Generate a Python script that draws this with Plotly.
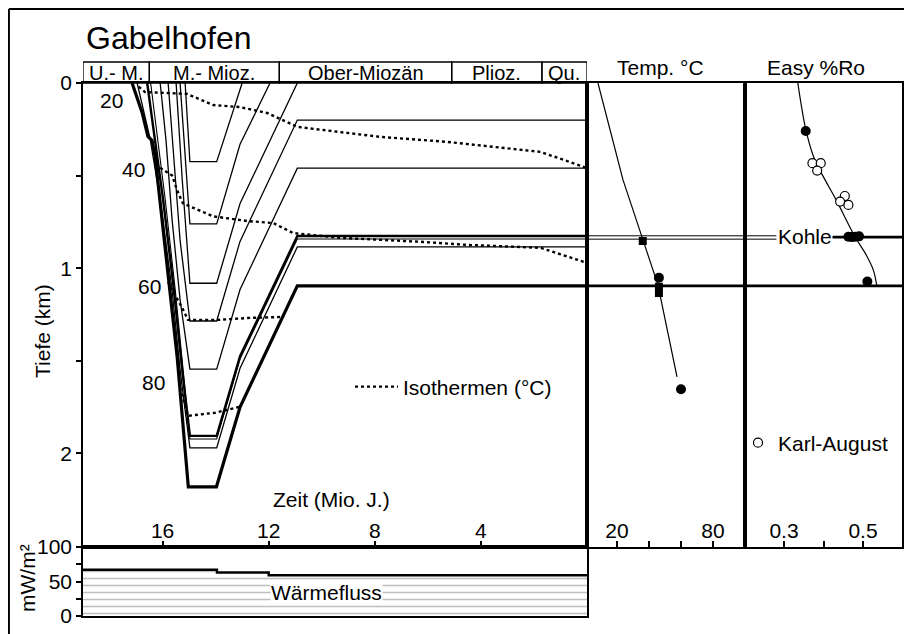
import plotly.graph_objects as go

W, H = 912, 634
OFF = 8  # page offset of the figure inside the browser window
def px(x): return (x - OFF) / W
def py(y): return 1 - (y - OFF) / H

FONT = "Liberation Sans, Arial, sans-serif"
FS = 21

# ---------------- data ----------------
epoch_names = ["U.- M.", "M.- Mioz.", "Ober-Miozän", "Plioz.", "Qu."]
epoch_bounds = [19.0, 16.5, 11.6, 5.1, 1.7, 0.0]
time_ticks = [16, 12, 8, 4]

# burial curves of horizons (time in Ma, depth in km)
h_base_t = [17.15, 16.77, 16.55, 16.40, 16.28, 15.72, 15.45, 15.03, 13.97, 13.08, 10.92, 0.0]
h_base_d = [0.0, 0.16, 0.29, 0.31, 0.40, 1.12, 1.48, 2.18, 2.18, 1.75, 1.095, 1.095]
h_a_t = [16.96, 16.47, 16.09, 15.64, 15.34, 14.97, 13.96, 13.08, 10.92, 0.0]
h_a_d = [0.0, 0.30, 0.63, 1.12, 1.55, 1.97, 1.97, 1.54, 0.885, 0.885]
h_kohle_t = [16.58, 16.28, 15.98, 15.57, 15.26, 14.97, 13.96, 13.08, 10.92, 0.0]
h_kohle_d = [0.0, 0.31, 0.63, 1.12, 1.55, 1.905, 1.905, 1.475, 0.826, 0.826]
h_kohle2_t = [16.45, 16.18, 15.90, 15.52, 15.22, 14.97, 13.96, 13.08, 10.92, 0.0]
h_kohle2_d = [0.0, 0.31, 0.63, 1.12, 1.55, 1.922, 1.922, 1.49, 0.842, 0.842]
h_b_t = [16.09, 15.87, 15.64, 15.34, 14.97, 13.96, 13.08, 10.92, 0.0]
h_b_d = [0.0, 0.31, 0.74, 1.17, 1.545, 1.545, 1.115, 0.46, 0.46]
h_c_t = [15.79, 15.57, 15.34, 14.97, 13.96, 13.08, 10.92, 0.0]
h_c_d = [0.0, 0.415, 0.85, 1.285, 1.285, 0.855, 0.2, 0.2]
e1_t = [15.49, 15.26, 14.97, 13.96, 13.08, 10.92]
e1_d = [0.0, 0.52, 1.081, 1.081, 0.651, 0.0]
e2_t = [15.34, 15.15, 14.97, 13.96, 13.08, 11.95]
e2_d = [0.0, 0.415, 0.761, 0.761, 0.331, 0.0]
e3_t = [15.15, 14.97, 13.96, 13.0]
e3_d = [0.0, 0.425, 0.425, 0.0]

# isotherms
iso20_t = [16.9, 16.66, 15.83, 15.08, 14.09, 13.08, 12.06, 11.57, 10.92, 7.79, 5.26, 1.75, 0.0]
iso20_d = [0.02, 0.049, 0.054, 0.059, 0.119, 0.130, 0.162, 0.194, 0.237, 0.291, 0.318, 0.372, 0.459]
iso40_t = [16.28, 15.64, 15.45, 15.23, 14.09, 12.81, 11.83, 11.08, 9.30, 6.17, 4.51, 1.75, 0.0]
iso40_d = [0.44, 0.50, 0.58, 0.65, 0.72, 0.745, 0.756, 0.81, 0.836, 0.858, 0.874, 0.89, 0.971]
iso60_t = [15.79, 15.64, 15.26, 15.04, 13.94, 12.70, 11.45]
iso60_d = [1.074, 1.117, 1.214, 1.279, 1.279, 1.268, 1.263]
iso80_t = [15.34, 15.04, 14.02, 13.08]
iso80_d = [1.646, 1.797, 1.78, 1.748]

# heat flow (mW/m2)
hf_t = [19.0, 13.95, 12.0, 0.0]
hf_v = [67, 63, 59, 59]

# temperature panel
temp_model_T = [8.1, 17.5, 23.75, 35.6, 45.6, 57.5]
temp_model_d = [0.0, 0.308, 0.523, 0.831, 1.09, 1.587]
temp_sq_T = [36.1, 46.2, 46.2]
temp_sq_d = [0.853, 1.10, 1.134]
temp_ci_T = [46.2, 60.0]
temp_ci_d = [1.051, 1.653]

# vitrinite reflectance panel
ro_model = [0.335, 0.356, 0.378, 0.404, 0.432, 0.480, 0.508, 0.526, 0.535]
ro_model_d = [0.0, 0.259, 0.416, 0.523, 0.631, 0.831, 0.928, 1.009, 1.095]
ro_fill = [0.355, 0.463, 0.472, 0.481, 0.490, 0.511]
ro_fill_d = [0.259, 0.830, 0.832, 0.830, 0.828, 1.072]
ro_ka = [0.372, 0.393, 0.384, 0.454, 0.463, 0.442]
ro_ka_d = [0.433, 0.433, 0.473, 0.610, 0.658, 0.640]

kohle_lines = [0.825, 0.843]
kohle_depth = 0.832
base_depth = 1.095

# ---------------- figure ----------------
fig = go.Figure()

def horizon(t, d, w):
    fig.add_trace(go.Scatter(x=t, y=d, mode="lines", line=dict(color="black", width=w),
                             xaxis="x", yaxis="y", showlegend=False, hoverinfo="skip"))

horizon(h_base_t, h_base_d, 3.2)
horizon(h_a_t, h_a_d, 1.3)
horizon(h_kohle_t, h_kohle_d, 2.4)
horizon(h_kohle2_t, h_kohle2_d, 1.1)
horizon(h_b_t, h_b_d, 1.3)
horizon(h_c_t, h_c_d, 1.3)
horizon(e1_t, e1_d, 1.3)
horizon(e2_t, e2_d, 1.3)
horizon(e3_t, e3_d, 1.3)

for i, (t, d) in enumerate([(iso20_t, iso20_d), (iso40_t, iso40_d), (iso60_t, iso60_d), (iso80_t, iso80_d)]):
    fig.add_trace(go.Scatter(x=t, y=d, mode="lines", line=dict(color="black", width=2.4, dash="dot"),
                             xaxis="x", yaxis="y", name="Isothermen (°C)", showlegend=(i == 0),
                             legend="legend", hoverinfo="skip"))

# heat flow
fig.add_trace(go.Scatter(x=hf_t, y=hf_v, mode="lines", line=dict(color="black", width=2.4, shape="hv"),
                         fill="tozeroy",
                         fillpattern=dict(shape="-", fgcolor="#808080", bgcolor="white", size=7, solidity=0.22),
                         xaxis="x4", yaxis="y4", showlegend=False, hoverinfo="skip"))

# temperature
fig.add_trace(go.Scatter(x=temp_model_T, y=temp_model_d, mode="lines", line=dict(color="black", width=1.2),
                         xaxis="x2", yaxis="y2", showlegend=False))
fig.add_trace(go.Scatter(x=temp_sq_T, y=temp_sq_d, mode="markers",
                         marker=dict(symbol="square", size=8, color="black"),
                         xaxis="x2", yaxis="y2", showlegend=False))
fig.add_trace(go.Scatter(x=temp_ci_T, y=temp_ci_d, mode="markers",
                         marker=dict(symbol="circle", size=10, color="black"),
                         xaxis="x2", yaxis="y2", showlegend=False))

# Ro
fig.add_trace(go.Scatter(x=ro_model, y=ro_model_d, mode="lines", line=dict(color="black", width=1.2, shape="spline"),
                         xaxis="x3", yaxis="y3", showlegend=False))
fig.add_trace(go.Scatter(x=ro_ka, y=ro_ka_d, mode="markers", name="Karl-August",
                         marker=dict(symbol="circle", size=9, color="white", line=dict(color="black", width=1.2)),
                         xaxis="x3", yaxis="y3", legend="legend2", showlegend=True))
fig.add_trace(go.Scatter(x=ro_fill, y=ro_fill_d, mode="markers",
                         marker=dict(symbol="circle", size=10, color="black"),
                         xaxis="x3", yaxis="y3", showlegend=False))

shapes = []
# epoch strip
for i in range(len(epoch_names)):
    shapes.append(dict(type="rect", xref="x", yref="paper", x0=epoch_bounds[i], x1=epoch_bounds[i + 1],
                       y0=py(83), y1=py(62), line=dict(color="black", width=1.3)))
# coal & base lines through the right panels
for kd in kohle_lines:
    shapes.append(dict(type="line", xref="x2 domain", yref="y2", x0=0, x1=1, y0=kd, y1=kd,
                       line=dict(color="black", width=1)))
    shapes.append(dict(type="line", xref="x3 domain", yref="y3", x0=0, x1=0.2, y0=kd, y1=kd,
                       line=dict(color="black", width=1)))
shapes.append(dict(type="line", xref="x3 domain", yref="y3", x0=0.55, x1=1, y0=kohle_depth, y1=kohle_depth,
                   line=dict(color="black", width=2.6)))
for ax in ["x2", "x3"]:
    shapes.append(dict(type="line", xref=ax + " domain", yref="y" + ax[1], x0=0, x1=1, y0=base_depth, y1=base_depth,
                       line=dict(color="black", width=2.6)))
# outer frame
shapes.append(dict(type="line", xref="paper", yref="paper", x0=0.001, x1=0.001, y0=0, y1=py(9),
                   line=dict(color="black", width=2)))
shapes.append(dict(type="line", xref="paper", yref="paper", x0=0.001, x1=1, y0=py(9), y1=py(9),
                   line=dict(color="black", width=2)))

ann = []
def text(x, y, s, size=FS, xanchor="center", **kw):
    d = dict(x=px(x), y=py(y), xref="paper", yref="paper", text=s, showarrow=False,
             xanchor=xanchor, yanchor="middle",
             font=dict(family=FONT, size=size, color="black"))
    d.update(kw)
    ann.append(d)

text(84, 38, "Gabelhofen", size=32, xanchor="left")
for i, name in enumerate(epoch_names):
    ann.append(dict(x=(epoch_bounds[i] + epoch_bounds[i + 1]) / 2, y=py(73), xref="x", yref="paper",
                    text=name, showarrow=False, xanchor="center", yanchor="middle",
                    font=dict(family=FONT, size=20, color="black")))
text(660, 68, "Temp. °C")
text(816, 68, "Easy %Ro")
text(111, 101, "20")
text(133, 170, "40")
text(149, 287, "60")
text(153, 382, "80")
text(331, 500, "Zeit (Mio. J.)")
text(805, 237, "Kohle", bgcolor="white", borderpad=0)
text(326, 592, "Wärmefluss", bgcolor="white", borderpad=0)
text(42, 331, "Tiefe (km)", textangle=-90)
text(27, 578, "mW/m²", textangle=-90)

common = dict(showgrid=False, zeroline=False, showline=True, linecolor="black", linewidth=1.6, mirror=True,
              tickfont=dict(family=FONT, size=FS, color="black"), tickcolor="black", tickwidth=1.5)
dom_y = [py(547), py(83)]
dom_x = [px(83), px(587)]

fig.update_layout(
    width=W, height=H, margin=dict(l=0, r=0, t=0, b=0, autoexpand=False),
    paper_bgcolor="white", plot_bgcolor="white",
    font=dict(family=FONT, size=FS, color="black"),
    xaxis=dict(common, domain=dom_x, range=[19, 0], anchor="y", ticks="inside", ticklen=6,
               tickvals=time_ticks, ticklabelposition="inside"),
    yaxis=dict(common, domain=dom_y, range=[2.505, 0], anchor="x", ticks="outside", ticklen=5,
               tickvals=[0, 0.5, 1, 1.5, 2], ticktext=["0", "", "1", "", "2"]),
    xaxis2=dict(common, domain=[px(587), px(745)], range=[1.25, 100], anchor="y2", ticks="inside", ticklen=6,
                tickvals=[20, 40, 60, 80], ticktext=["20", "", "", "80"], ticklabelposition="inside"),
    yaxis2=dict(common, domain=dom_y, range=[2.505, 0], anchor="x2", showticklabels=False, ticks=""),
    xaxis3=dict(common, domain=[px(745), px(902)], range=[0.2013, 0.5987], anchor="y3", ticks="inside", ticklen=6,
                tickvals=[0.3, 0.4, 0.5], ticktext=["0.3", "", "0.5"], ticklabelposition="inside"),
    yaxis3=dict(common, domain=dom_y, range=[2.505, 0], anchor="x3", showticklabels=False, ticks=""),
    xaxis4=dict(common, domain=dom_x, range=[19, 0], anchor="y4", showticklabels=False, ticks=""),
    yaxis4=dict(common, domain=[py(616), py(547)], range=[0, 100], anchor="x4", ticks="outside", ticklen=5,
                tickvals=[0, 25, 50, 75, 100], ticktext=["0", "", "50", "", "100"]),
    legend=dict(x=px(350), y=py(387), xanchor="left", yanchor="middle", bgcolor="rgba(0,0,0,0)",
                font=dict(family=FONT, size=FS, color="black"), itemwidth=43),
    legend2=dict(x=px(738), y=py(443), xanchor="left", yanchor="middle", bgcolor="rgba(0,0,0,0)",
                 font=dict(family=FONT, size=FS, color="black"), itemwidth=30),
    shapes=shapes, annotations=ann,
)

fig.write_html("out.html")
